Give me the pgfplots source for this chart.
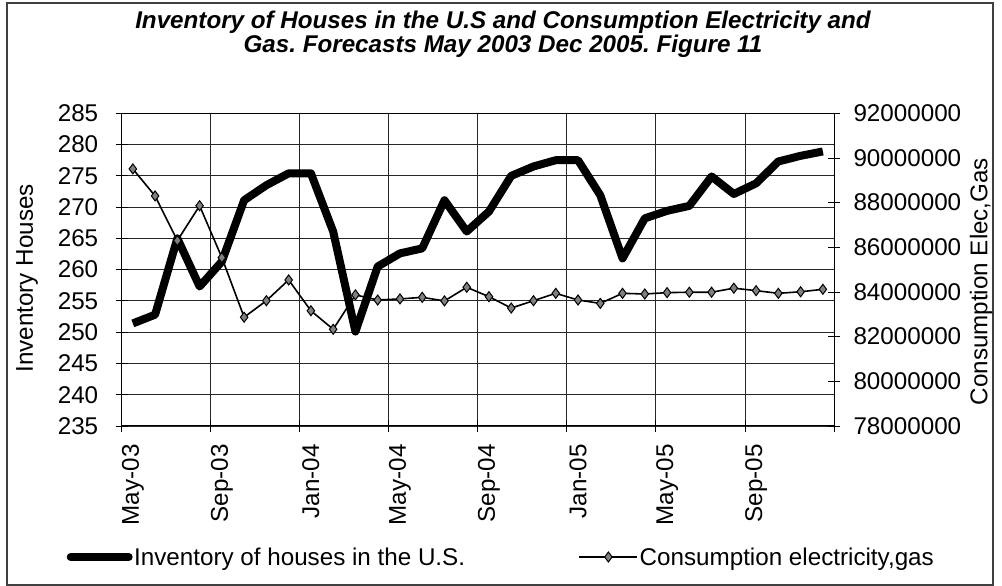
\documentclass[border=0pt]{standalone}
\usepackage{fontspec}
\setmainfont{Liberation Sans}
\usepackage{pgfplots}
\usepackage{pgfplotstable}
\pgfplotsset{compat=1.18}
\frenchspacing

% month index (0 = May-03), inventory of houses, consumption elec/gas
\pgfplotstableread{
i inv cons
0 251.4 89510000
1 252.8 88300000
2 265.0 86300000
3 257.3 87860000
4 261.3 85540000
5 271.1 82870000
6 273.5 83610000
7 275.4 84540000
8 275.4 83160000
9 266.1 82330000
10 250.1 83870000
11 260.5 83640000
12 262.6 83690000
13 263.4 83760000
14 271.1 83600000
15 266.1 84210000
16 269.3 83790000
17 275.0 83280000
18 276.5 83610000
19 277.5 83940000
20 277.5 83640000
21 271.9 83490000
22 261.8 83940000
23 268.2 83910000
24 269.4 83970000
25 270.2 83990000
26 274.9 83990000
27 272.1 84170000
28 273.8 84060000
29 277.3 83940000
30 278.2 84010000
31 278.9 84120000
}\datatable

\newcommand{\chartfont}{\fontsize{24.2bp}{29bp}\selectfont}

\pgfplotsset{
  twin/.style={
    at={(121.7bp,160bp)}, anchor=south west,
    scale only axis, width=712.3bp, height=312.7bp,
    xmin=-0.5, xmax=31.5,
    tick align=center, major tick length=12bp,
    tick style={black, line width=0.9bp},
    axis line style={black, line width=1bp},
    tick label style={font=\chartfont},
    /pgf/number format/assume math mode=true,
  }
}

\begin{document}
\begin{tikzpicture}
\useasboundingbox (0,0) rectangle (1002bp,586bp);
\draw[black!75, line width=1.2bp] (7bp,1bp) rectangle (993bp,583bp);

\begin{axis}[
  twin,
  ymin=235, ymax=285,
  ytick={235,240,...,285},
  xtick={-0.5,3.5,...,31.5},
  xticklabels={May-03,Sep-03,Jan-04,May-04,Sep-04,Jan-05,May-05,Sep-05,{}},
  xmajorgrids, ymajorgrids,
  grid style={black!85, line width=0.9bp},
  xtick pos=bottom, ytick pos=left,
  xticklabel style={xshift=11.13bp, yshift=-9bp, rotate=90, anchor=east},
  yticklabel style={xshift=-14bp},
]
\addplot[black, line width=8bp, line join=round] table[x=i, y=inv] {\datatable};
\end{axis}

\begin{axis}[
  twin,
  ymin=78000000, ymax=92000000,
  axis y line*=right, axis x line=none,
  scaled y ticks=false,
  ytick={78000000,80000000,82000000,84000000,86000000,88000000,90000000,92000000},
  yticklabels={78000000,80000000,82000000,84000000,86000000,88000000,90000000,92000000},
  yticklabel style={xshift=10bp},
  legend columns=2,
  legend image code/.code={\draw[mark repeat=2,mark phase=2,#1] plot coordinates {(0bp,0bp) (29bp,0bp) (58bp,0bp)};},
  legend style={at={(-0.0775,-0.419)}, anchor=west, draw=none, fill=none,
    inner sep=0pt, font=\chartfont, legend cell align=left,
    nodes={inner sep=1.5bp},
    /tikz/every even column/.append style={column sep=112bp}},
]
\addlegendimage{black, line width=8bp, line cap=round}
\addlegendentry{Inventory of houses in the U.S.}
\addplot[black, line width=1.6bp, mark=diamond*, mark size=5bp,
  mark options={fill=black!50, draw=black, line width=1bp}] table[x=i, y=cons] {\datatable};
\addlegendentry{Consumption electricity,gas}
\end{axis}

\node[anchor=base, font=\chartfont\bfseries\itshape] at (503bp,557.7bp)
  {Inventory of Houses in the U.S and Consumption Electricity and};
\node[anchor=base, font=\chartfont\bfseries\itshape] at (503bp,533.7bp)
  {Gas. Forecasts May 2003 Dec 2005. Figure 11};
\node[rotate=90, font=\chartfont] at (27bp,307.7bp) {Inventory Houses};
\node[rotate=90, font=\chartfont] at (981bp,304.4bp) {Consumption Elec,Gas};
\end{tikzpicture}
\end{document}
